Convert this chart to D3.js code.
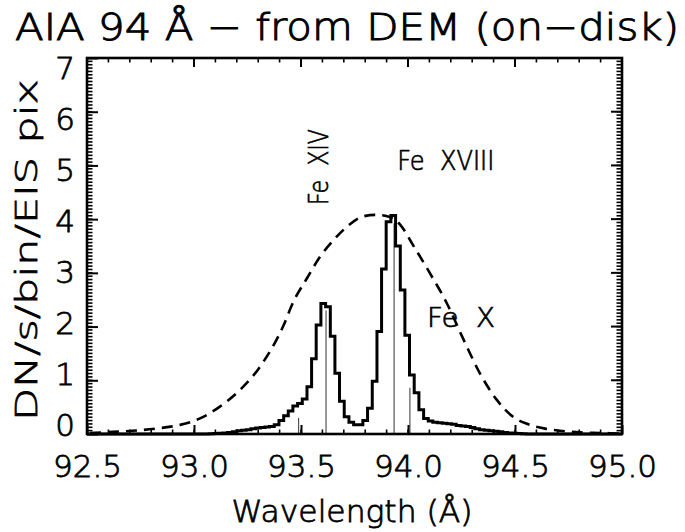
<!DOCTYPE html>
<html>
<head>
<meta charset="utf-8">
<script src="https://cdn.jsdelivr.net/npm/d3@7"></script>
<style>
  html, body { margin: 0; padding: 0; background: #fff; }
  svg { display: block; }
  text { font-family: "DejaVu Sans", sans-serif; font-weight: 200; fill: #000; stroke: #000; }
</style>
</head>
<body>
<div id="chart"></div>
<script>
// ---------- data ----------
const titleText = "AIA 94 \u00C5 \u2212 from DEM (on\u2212disk)";
const xTitle = "Wavelength (\u00C5)";
const yTitle = "DN/s/bin/EIS pix";

const xTickValues = [92.5, 93.0, 93.5, 94.0, 94.5, 95.0];
const xTickLabels = ["92.5", "93.0", "93.5", "94.0", "94.5", "95.0"];
const yTickValues = [0, 1, 2, 3, 4, 5, 6, 7];
const yTickLabels = ["0", "1", "2", "3", "4", "5", "6", "7"];

// EIS-binned spectrum (bin centres, Å) and counts
const histWave = [92.500,
  93.059, 93.081, 93.103, 93.124, 93.146, 93.168, 93.190, 93.212, 93.233, 93.255,
  93.277, 93.299, 93.321, 93.342, 93.364, 93.386, 93.408, 93.430, 93.451, 93.473,
  93.495, 93.517, 93.539, 93.560, 93.582, 93.604, 93.626, 93.648, 93.669, 93.691,
  93.713, 93.735, 93.757, 93.778, 93.800, 93.822, 93.844, 93.866, 93.887, 93.909,
  93.931, 93.953, 93.975, 93.996, 94.018, 94.040, 94.062, 94.084, 94.105, 94.127,
  94.149, 94.171, 94.193, 94.214, 94.236, 94.258, 94.280, 94.302, 94.323, 94.345,
  94.367, 94.389, 94.411, 94.432, 94.454, 94.476, 94.498, 94.520, 94.541, 94.563,
  95.000];
const histVals = [0.00,
  0.00, 0.005, 0.01, 0.015, 0.02, 0.03, 0.04, 0.06, 0.07, 0.08,
  0.10, 0.11, 0.12, 0.13, 0.14, 0.17, 0.25, 0.34, 0.43, 0.52,
  0.57, 0.65, 0.88, 1.40, 2.03, 2.43, 2.37, 1.82, 1.13, 0.61,
  0.32, 0.22, 0.17, 0.17, 0.25, 0.48, 0.98, 1.91, 3.07, 3.95,
  4.07, 3.50, 2.68, 1.84, 1.10, 0.77, 0.45, 0.29, 0.24, 0.22,
  0.21, 0.20, 0.19, 0.18, 0.16, 0.15, 0.14, 0.12, 0.10, 0.08,
  0.07, 0.06, 0.05, 0.04, 0.03, 0.02, 0.015, 0.01, 0.005, 0.00,
  0.00];

// scaled AIA 94 response (dashed)
const respWave = [92.514, 92.621, 92.748, 92.841, 92.935, 93.028, 93.121, 93.215, 93.308,
  93.416, 93.463, 93.528, 93.589, 93.650, 93.715, 93.790, 93.846, 93.907, 93.963,
  94.023, 94.103, 94.182, 94.257, 94.336, 94.416, 94.491, 94.556, 94.640, 94.710,
  94.804, 94.897, 94.991];
const respVals = [0.02, 0.04, 0.07, 0.11, 0.17, 0.29, 0.51, 0.82, 1.25,
  2.00, 2.45, 2.90, 3.30, 3.60, 3.86, 4.05, 4.08, 4.05, 3.90,
  3.52, 2.99, 2.43, 1.78, 1.13, 0.63, 0.32, 0.19, 0.10, 0.06,
  0.03, 0.02, 0.01];

// individual line positions (thin vertical lines)
const lineWave = [93.489, 93.617, 93.935, 94.009];
const lineVals = [0.30, 2.30, 3.92, 0.86];

// line identifications
const ionLabels = ["Fe  XIV", "Fe  XVIII", "Fe  X"];

// ---------- drawing ----------
const W = 685, H = 532;
const margin = {left: 87, right: 63, top: 58, bottom: 98};
const svg = d3.select("#chart").append("svg").attr("width", W).attr("height", H);

const x = d3.scaleLinear().domain([92.5, 95.0]).range([margin.left, W - margin.right]);
const y = d3.scaleLinear().domain([0, 7]).range([H - margin.bottom, margin.top]);
// label placement (labels sit slightly inside the frame, as in the original)
const yLab = d3.scaleLinear().domain([0, 7]).range([H - margin.bottom - 9, margin.top + 10]);
const x0 = x.range()[0], x1 = x.range()[1], y0 = y.range()[0], y1 = y.range()[1];

// thin line markers
svg.append("g").selectAll("line").data(lineWave).join("line")
  .attr("x1", d => x(d)).attr("x2", d => x(d))
  .attr("y1", y(0)).attr("y2", (d, i) => y(lineVals[i]))
  .attr("stroke", "#333").attr("stroke-width", 1);

// dashed response curve
svg.append("path")
  .datum(respWave.map((d, i) => [d, respVals[i]]))
  .attr("fill", "none").attr("stroke", "#000").attr("stroke-width", 2.6)
  .attr("stroke-dasharray", "11,7")
  .attr("d", d3.line().x(d => x(d[0])).y(d => y(d[1])).curve(d3.curveMonotoneX));

// histogram
svg.append("path")
  .datum(histWave.map((d, i) => [d, histVals[i]]))
  .attr("fill", "none").attr("stroke", "#000").attr("stroke-width", 3)
  .attr("stroke-linejoin", "miter")
  .attr("d", d3.line().x(d => x(d[0])).y(d => y(d[1])).curve(d3.curveStep));

// axes
const fs = 31;
const gx = svg.append("g").attr("transform", `translate(0,${y0})`)
  .call(d3.axisBottom(x).tickValues(xTickValues).tickFormat((d, i) => xTickLabels[i])
    .tickSizeInner(-9).tickSizeOuter(0).tickPadding(21));
gx.select(".domain").remove();
gx.selectAll("line").attr("stroke", "#000").attr("stroke-width", 2);
gx.selectAll("text").attr("font-size", fs).attr("font-family", "DejaVu Sans")
  .attr("font-weight", 200).attr("fill", "#000").attr("stroke", "#000").attr("stroke-width", 0.8);

const gy = svg.append("g").attr("transform", `translate(${x0},0)`)
  .call(d3.axisLeft(y).tickValues(yTickValues).tickFormat("")
    .tickSizeInner(-11).tickSizeOuter(0));
gy.select(".domain").remove();
gy.selectAll("line").attr("stroke", "#000").attr("stroke-width", 2);
svg.append("g").selectAll("text").data(yTickValues).join("text")
  .attr("x", x0 - 12).attr("y", d => yLab(d)).attr("dy", "0.36em")
  .attr("text-anchor", "end").attr("font-size", fs).attr("stroke-width", 0.8)
  .text((d, i) => yTickLabels[i]);

// top & right major ticks
svg.append("g").selectAll("line").data(xTickValues).join("line")
  .attr("x1", d => x(d)).attr("x2", d => x(d)).attr("y1", y1).attr("y2", y1 + 9)
  .attr("stroke", "#000").attr("stroke-width", 2);
svg.append("g").selectAll("line").data(yTickValues).join("line")
  .attr("y1", d => y(d)).attr("y2", d => y(d)).attr("x1", x1).attr("x2", x1 - 11)
  .attr("stroke", "#000").attr("stroke-width", 2);

// minor ticks
const xMinor = d3.range(92.5, 95.0001, 0.1);
const yMinor = d3.range(0, 7.0001, 1 / 16);
const minor = svg.append("g").attr("stroke", "#000").attr("stroke-width", 1.6);
minor.selectAll(".xb").data(xMinor).join("line").attr("class", "xb")
  .attr("x1", d => x(d)).attr("x2", d => x(d)).attr("y1", y0).attr("y2", y0 - 4.5);
minor.selectAll(".xt").data(xMinor).join("line").attr("class", "xt")
  .attr("x1", d => x(d)).attr("x2", d => x(d)).attr("y1", y1).attr("y2", y1 + 4.5);
minor.selectAll(".yl").data(yMinor).join("line").attr("class", "yl")
  .attr("y1", d => y(d)).attr("y2", d => y(d)).attr("x1", x0).attr("x2", x0 + 5.5);
minor.selectAll(".yr").data(yMinor).join("line").attr("class", "yr")
  .attr("y1", d => y(d)).attr("y2", d => y(d)).attr("x1", x1).attr("x2", x1 - 5.5);

// frame
svg.append("rect").attr("x", x0).attr("y", y1).attr("width", x1 - x0).attr("height", y0 - y1)
  .attr("fill", "none").attr("stroke", "#000").attr("stroke-width", 2.6);

// title
svg.append("text").attr("x", 347).attr("y", 40)
  .attr("text-anchor", "middle").attr("font-size", 38).attr("stroke-width", 1.0)
  .attr("textLength", 664).attr("lengthAdjust", "spacingAndGlyphs")
  .text(titleText);

// axis titles
svg.append("text").attr("x", 352).attr("y", 522)
  .attr("text-anchor", "middle").attr("font-size", 31).attr("stroke-width", 0.8)
  .attr("textLength", 241).attr("lengthAdjust", "spacingAndGlyphs")
  .text(xTitle);
svg.append("text").attr("transform", `translate(37,${(y0 + y1) / 2 + 4}) rotate(-90)`)
  .attr("text-anchor", "middle").attr("font-size", 31).attr("stroke-width", 0.8)
  .attr("textLength", 342).attr("lengthAdjust", "spacingAndGlyphs")
  .text(yTitle);

// line identifications
svg.append("text").attr("transform", `translate(${x(93.626)},${y(4.97)}) rotate(-90)`)
  .attr("text-anchor", "middle").attr("font-size", 27).attr("stroke-width", 0.7)
  .style("white-space", "pre")
  .attr("textLength", 76).attr("lengthAdjust", "spacingAndGlyphs")
  .text(ionLabels[0]);
svg.append("text").attr("x", x(93.95)).attr("y", y(4.92))
  .attr("font-size", 27).attr("stroke-width", 0.7).style("white-space", "pre")
  .attr("textLength", 97).attr("lengthAdjust", "spacingAndGlyphs")
  .text(ionLabels[1]);
svg.append("text").attr("x", x(94.089)).attr("y", y(1.99))
  .attr("font-size", 27).attr("stroke-width", 0.7).style("white-space", "pre")
  .attr("textLength", 68).attr("lengthAdjust", "spacingAndGlyphs")
  .text(ionLabels[2]);
</script>
</body>
</html>
